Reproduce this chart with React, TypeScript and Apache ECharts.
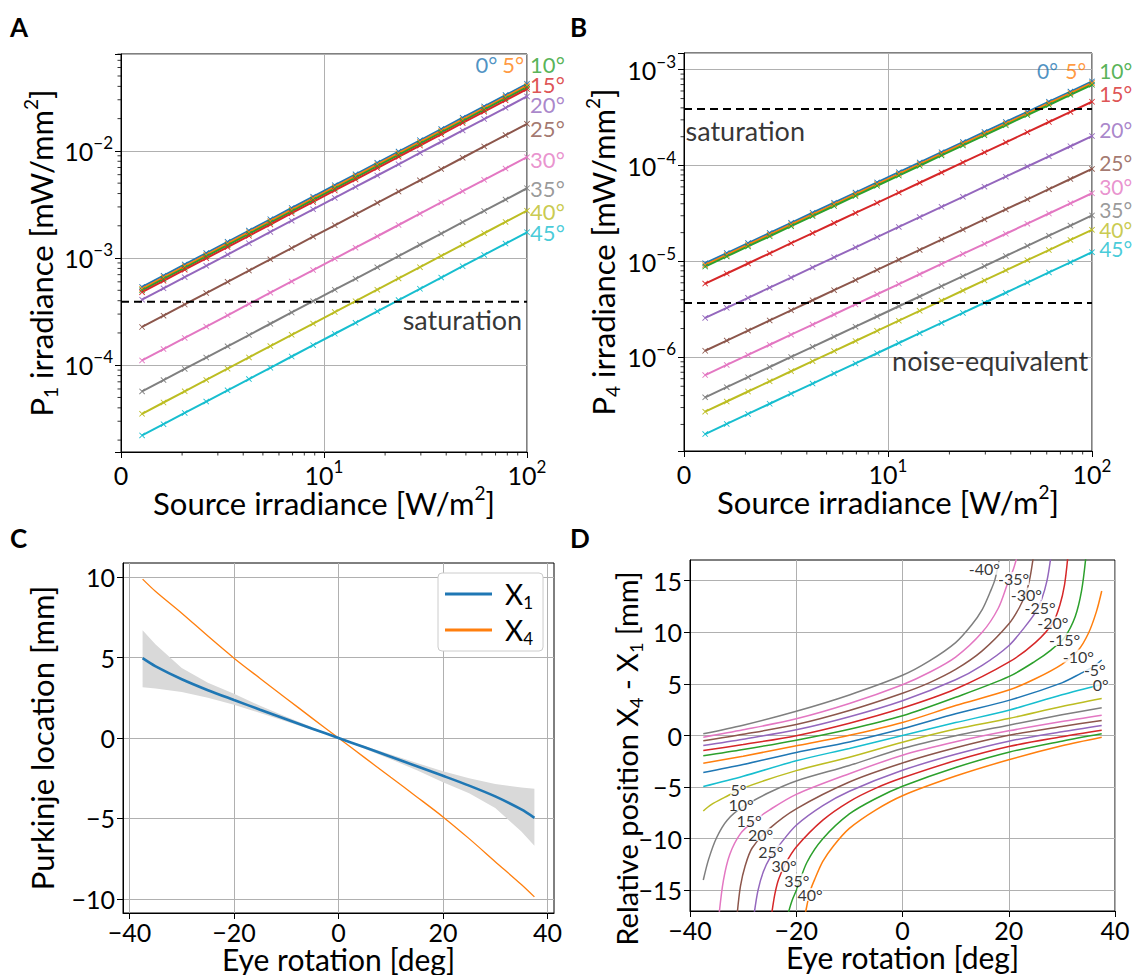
import React, { useEffect, useRef } from 'react';
import * as echarts from 'echarts';

const FONT = 'Lato';
const tab10 = ['#1f77b4', '#ff7f0e', '#2ca02c', '#d62728', '#9467bd', '#8c564b', '#e377c2', '#7f7f7f', '#bcbd22', '#17becf'];

// ---------- Panels A & B ----------
const sourceIrradiance = [1.27, 1.62, 2.06, 2.63, 3.35, 4.27, 5.44, 6.93, 8.84, 11.3, 14.3, 18.3, 23.3, 29.7, 37.8, 48.2, 61.5, 78.4, 100];
const angleNames = ['0°', '5°', '10°', '15°', '20°', '25°', '30°', '35°', '40°', '45°'];
// irradiance read at a source irradiance of 100 W/m² (both quantities are proportional)
const p1At100 = [0.0423, 0.0408, 0.0394, 0.0378, 0.0322, 0.0179, 0.00873, 0.00448, 0.00277, 0.00174];
const p4At100 = [7.55e-4, 7.26e-4, 6.97e-4, 4.63e-4, 2.03e-4, 9.24e-5, 5.15e-5, 3.02e-5, 2.14e-5, 1.25e-5];
const saturationLevel = 3.9e-4;
const noiseEquivalentLevel = 3.7e-6;
// label anchors (data coordinates)
const labelPosA = [[55.5, 0.0641], [75.0, 0.0641], [103, 0.0641], [103, 0.04165], [103, 0.02708], [103, 0.01616], [103, 0.008294], [103, 0.004446], [103, 0.002738], [103, 0.001742]];
const labelPosB = [[53.5, 9.76e-4], [73.5, 9.76e-4], [107.8, 9.76e-4], [107.8, 5.61e-4], [107.8, 2.363e-4], [107.8, 1.081e-4], [107.8, 6.074e-5], [107.8, 3.495e-5], [107.8, 2.171e-5], [107.8, 1.368e-5]];

// ---------- Panel C ----------
const eyeRotation = [-37.5, -35, -30, -25, -20, -15, -10, -5, 0, 5, 10, 15, 20, 25, 30, 35, 37.5];
const x1Location = [4.96, 4.45, 3.65, 2.97, 2.36, 1.76, 1.17, 0.58, 0, -0.58, -1.17, -1.76, -2.35, -2.96, -3.63, -4.44, -4.96];
const x1Upper = [6.7, 5.8, 4.35, 3.43, 2.75, 2.0, 1.32, 0.66, 0, -0.5, -1.03, -1.55, -2.07, -2.5, -2.85, -3.08, -3.15];
const x1Lower = [3.15, 3.08, 2.85, 2.5, 2.07, 1.55, 1.03, 0.5, 0, -0.66, -1.32, -2.0, -2.75, -3.43, -4.35, -5.8, -6.7];
const x4Location = [9.87, 9.1, 7.75, 6.33, 4.96, 3.7, 2.46, 1.22, 0, -1.22, -2.44, -3.66, -4.9, -6.25, -7.68, -9.1, -9.87];

// ---------- Panel D ----------
const curveM40 = [[-37.5, 0.17], [-30, 1.0], [-20, 2.35], [-10, 3.93], [0, 5.83], [5, 7.2], [10, 9.0], [13, 10.7], [15, 12.2], [16.5, 13.9], [17.4, 15.1], [18.2, 17.0], [18.5, 17.8]];
const curveM35 = [[-37.5, -0.16], [-30, 0.55], [-20, 1.62], [-10, 3.1], [0, 4.92], [5, 6.1], [10, 7.6], [15, 10.0], [18, 12.3], [19.9, 14.9], [20.8, 16.0], [21.5, 17.2]];
const curveM30 = [[-37.5, -0.51], [-30, 0.12], [-20, 1.07], [-10, 2.43], [0, 4.1], [5, 5.1], [10, 6.4], [15, 8.2], [20, 10.8], [22, 12.4], [23.3, 13.9], [24, 15.3], [24.6, 17.2]];
const curveM25 = [[-37.5, -0.97], [-30, -0.36], [-20, 0.55], [-10, 1.82], [0, 3.37], [10, 5.4], [15, 6.8], [20, 8.7], [23, 10.5], [25, 11.9], [26.2, 13.2], [27.2, 15.0], [27.9, 17.2]];
const curveM20 = [[-37.5, -1.46], [-30, -0.88], [-20, -0.02], [-10, 1.19], [0, 2.66], [10, 4.5], [20, 7.1], [25, 9.0], [28.3, 10.9], [29.6, 12.6], [30.5, 14.6], [31.1, 17.2]];
const curveM15 = [[-37.5, -1.97], [-30, -1.36], [-20, -0.45], [-10, 0.61], [0, 1.91], [10, 3.7], [20, 5.7], [25, 7.2], [28, 8.3], [30.5, 9.5], [32.5, 11.5], [33.7, 14.0], [34.5, 17.2]];
const curveM10 = [[-37.5, -2.68], [-30, -2.0], [-20, -1.0], [-10, 0.02], [0, 1.26], [10, 2.9], [20, 4.4], [25, 5.5], [30, 6.9], [33, 8.2], [35, 9.9], [36.5, 12.0], [37.5, 14.0]];
const curveM5 = [[-37.5, -3.59], [-30, -2.81], [-20, -1.65], [-10, -0.62], [0, 0.65], [10, 2.1], [20, 3.4], [30, 5.1], [33.5, 6.0], [36, 6.7], [37.5, 7.31]];
const curve0 = [[-37.5, -4.95], [-30, -3.95], [-20, -2.45], [-10, -1.25], [0, 0], [10, 1.25], [20, 2.45], [30, 3.95], [37.5, 4.95]];
const curveP5 = [[-37.5, -7.31], [-36, -6.7], [-33.5, -6.0], [-30, -5.1], [-20, -3.4], [-10, -2.1], [0, -0.65], [10, 0.62], [20, 1.65], [30, 2.81], [37.5, 3.59]];
const curveP10 = [[-37.5, -14.0], [-36.5, -12.0], [-35, -9.9], [-33, -8.2], [-30, -6.9], [-25, -5.5], [-20, -4.4], [-10, -2.9], [0, -1.26], [10, -0.02], [20, 1.0], [30, 2.0], [37.5, 2.68]];
const curveP15 = [[-34.5, -17.2], [-33.7, -14.0], [-32.5, -11.5], [-30.5, -9.5], [-28, -8.3], [-25, -7.2], [-20, -5.7], [-10, -3.7], [0, -1.91], [10, -0.61], [20, 0.45], [30, 1.36], [37.5, 1.97]];
const curveP20 = [[-31.1, -17.2], [-30.5, -14.6], [-29.6, -12.6], [-28.3, -10.9], [-25, -9.0], [-20, -7.1], [-10, -4.5], [0, -2.66], [10, -1.19], [20, 0.02], [30, 0.88], [37.5, 1.46]];
const curveP25 = [[-27.9, -17.2], [-27.2, -15.0], [-26.2, -13.2], [-25, -11.9], [-23, -10.5], [-20, -8.7], [-15, -6.8], [-10, -5.4], [0, -3.37], [10, -1.82], [20, -0.55], [30, 0.36], [37.5, 0.97]];
const curveP30 = [[-24.6, -17.2], [-24, -15.3], [-23.3, -13.9], [-22, -12.4], [-20, -10.8], [-15, -8.2], [-10, -6.4], [-5, -5.1], [0, -4.1], [10, -2.43], [20, -1.07], [30, -0.12], [37.5, 0.51]];
const curveP35 = [[-21.5, -17.2], [-20.8, -16.0], [-19.9, -14.9], [-18, -12.3], [-15, -10.0], [-10, -7.6], [-5, -6.1], [0, -4.92], [10, -3.1], [20, -1.62], [30, -0.55], [37.5, 0.16]];
const curveP40 = [[-18.5, -17.8], [-18.2, -17.0], [-17.4, -15.1], [-16.5, -13.9], [-15, -12.2], [-13, -10.7], [-10, -9.0], [-5, -7.2], [0, -5.83], [10, -3.93], [20, -2.35], [30, -1.0], [37.5, -0.17]];

const contourNames = ['-40°', '-35°', '-30°', '-25°', '-20°', '-15°', '-10°', '-5°', '0°', '5°', '10°', '15°', '20°', '25°', '30°', '35°', '40°'];
const contourCurves = [curveM40, curveM35, curveM30, curveM25, curveM20, curveM15, curveM10, curveM5, curve0, curveP5, curveP10, curveP15, curveP20, curveP25, curveP30, curveP35, curveP40];
const contourColorIdx = [7, 6, 5, 4, 3, 2, 1, 0, 9, 8, 7, 6, 5, 4, 3, 2, 1];
const contourLabelPos = [[15.4, 16.2], [20.9, 15.2], [23.3, 13.7], [25.9, 12.4], [28.3, 10.9], [30.5, 9.3], [33.1, 7.7], [36.2, 6.4], [37.3, 4.95], [-30.9, -5.2], [-30.4, -6.7], [-28.9, -8.2], [-26.7, -9.6], [-24.8, -11.2], [-22.3, -12.6], [-19.9, -14.0], [-17.4, -15.4]];

const MINUS = '\u2212';
const fmtNum = (v: number) => (v < 0 ? MINUS + Math.abs(v) : String(v));

const TICK = 25;
const tickRich = {
  b: { fontSize: TICK, lineHeight: 34, fontFamily: FONT, color: '#000' },
  s: { fontSize: 17, lineHeight: 17, verticalAlign: 'top', fontFamily: FONT, color: '#000' },
};
const logLabel = (v: number) => {
  const e = Math.log10(v);
  const r = Math.round(e);
  if (Math.abs(e - r) > 1e-6) return '';
  if (r === 0) return '{b|0}';
  return `{b|10}{s|${r < 0 ? MINUS + -r : r}}`;
};

const nameStyle = (size: number, extra: any = {}) => ({
  color: '#000',
  fontSize: size,
  lineHeight: size + 8,
  fontFamily: FONT,
  rich: {
    p: { fontSize: Math.round(size * 0.62), lineHeight: Math.round(size * 0.62), verticalAlign: 'top', fontFamily: FONT, color: '#000' },
    q: { fontSize: Math.round(size * 0.62), lineHeight: Math.round(size * 0.62), verticalAlign: 'bottom', fontFamily: FONT, color: '#000' },
  },
  ...extra,
});

function axis(o: any) {
  return {
    nameLocation: 'middle',
    nameMoveOverlap: false,
    axisLine: { show: true, onZero: false, lineStyle: { color: '#000', width: 1 } },
    splitLine: { show: true, lineStyle: { color: '#b0b0b0', width: 1 } },
    ...o,
    axisTick: { show: true, inside: false, length: 6, lineStyle: { color: '#000', width: 1 }, ...(o.axisTick || {}) },
    axisLabel: { color: '#000', fontSize: TICK, fontFamily: FONT, margin: 8, ...(o.axisLabel || {}) },
  };
}

const xMark = 'path://M1,0 L5,4 L9,0 L10,1 L6,5 L10,9 L9,10 L5,6 L1,10 L0,9 L4,5 L0,1 Z';

// minor tick positions (2..9 × 10^k) inside a log range
function minorLogValues(lo: number, hi: number) {
  const out: number[] = [];
  for (let e = Math.floor(Math.log10(lo)); e <= Math.ceil(Math.log10(hi)); e++) {
    for (let m = 2; m <= 9; m++) {
      const v = m * Math.pow(10, e);
      if (v > lo && v < hi) out.push(v);
    }
  }
  return out;
}

function minorTickSeries(ai: number, xr: [number, number], yr: [number, number]) {
  const xs = minorLogValues(xr[0], xr[1]);
  const ys = minorLogValues(yr[0], yr[1]);
  return {
    type: 'custom',
    xAxisIndex: ai,
    yAxisIndex: ai,
    silent: true,
    clip: false,
    data: [[xr[0], yr[0]]],
    renderItem: (_p: any, api: any) => {
      const children: any[] = [];
      xs.forEach((v) => {
        const p = api.coord([v, yr[0]]);
        children.push({ type: 'line', shape: { x1: p[0], y1: p[1], x2: p[0], y2: p[1] + 3.5 }, style: { stroke: '#000', lineWidth: 0.8 } });
      });
      ys.forEach((v) => {
        const p = api.coord([xr[0], v]);
        children.push({ type: 'line', shape: { x1: p[0] - 3.5, y1: p[1], x2: p[0], y2: p[1] }, style: { stroke: '#000', lineWidth: 0.8 } });
      });
      return { type: 'group', children };
    },
    z: 5,
  };
}

const yRangeA: [number, number] = [1.549e-5, 0.0802];
const yRangeB: [number, number] = [1.057e-7, 1.493e-3];

function buildOption() {
  const series: any[] = [];

  // Panel A & B lines
  const gains = [p1At100, p4At100];
  gains.forEach((g, gi) => {
    g.forEach((k, i) => {
      series.push({
        type: 'line',
        xAxisIndex: gi,
        yAxisIndex: gi,
        data: sourceIrradiance.map((s) => [s, (k * s) / 100]),
        symbol: xMark,
        symbolSize: 6,
        showSymbol: true,
        itemStyle: { color: tab10[i] },
        lineStyle: { color: tab10[i], width: 2 },
        z: 3,
      });
    });
    series.push({
      type: 'line',
      xAxisIndex: gi,
      yAxisIndex: gi,
      data: [[1, saturationLevel], [100, saturationLevel]],
      symbol: 'none',
      lineStyle: { color: '#000', width: 2, type: [8, 5] },
      z: 4,
    });
    const pos = gi === 0 ? labelPosA : labelPosB;
    series.push({
      type: 'scatter',
      xAxisIndex: gi,
      yAxisIndex: gi,
      clip: false,
      silent: true,
      symbolSize: 1,
      itemStyle: { color: 'transparent' },
      data: pos.map((p, i) => ({ value: p, name: angleNames[i], label: { color: tab10[i] } })),
      label: { show: true, position: 'right', distance: 0, formatter: '{b}', fontSize: gi === 0 ? 22 : 21, lineHeight: 18, fontFamily: FONT },
      z: 6,
    });
    series.push(minorTickSeries(gi, [1, 100], gi === 0 ? yRangeA : yRangeB));
  });
  series.push({
    type: 'line',
    xAxisIndex: 1,
    yAxisIndex: 1,
    data: [[1, noiseEquivalentLevel], [100, noiseEquivalentLevel]],
    symbol: 'none',
    lineStyle: { color: '#000', width: 2, type: [8, 5] },
    z: 4,
  });
  const textSeries = (ai: number, items: any[]) => ({
    type: 'scatter',
    xAxisIndex: ai,
    yAxisIndex: ai,
    clip: false,
    silent: true,
    symbolSize: 1,
    itemStyle: { color: 'transparent' },
    data: items,
    label: { show: true, distance: 0, formatter: '{b}', fontSize: 27, fontFamily: FONT, color: '#000' },
    z: 6,
  });
  series.push(textSeries(0, [{ value: [95.2, 2.65e-4], name: 'saturation', label: { position: 'left' } }]));
  series.push(textSeries(1, [
    { value: [1.011, 2.307e-4], name: 'saturation', label: { position: 'right' } },
    { value: [96.2, 9.37e-7], name: 'noise-equivalent', label: { position: 'left' } },
  ]));

  // Panel C
  series.push({
    type: 'custom',
    xAxisIndex: 2,
    yAxisIndex: 2,
    silent: true,
    data: [[0, 0]],
    renderItem: (_p: any, api: any) => {
      const up = eyeRotation.map((x, i) => api.coord([x, x1Upper[i]]));
      const lo = eyeRotation.map((x, i) => api.coord([x, x1Lower[i]])).reverse();
      return { type: 'polygon', shape: { points: up.concat(lo) }, style: { fill: '#d9d9d9' } };
    },
    z: 2,
  });
  series.push({
    type: 'line', name: 'X1', xAxisIndex: 2, yAxisIndex: 2,
    data: eyeRotation.map((x, i) => [x, x1Location[i]]),
    showSymbol: false, smooth: 0.3,
    itemStyle: { color: tab10[0] }, lineStyle: { color: tab10[0], width: 2.6 }, z: 4,
  });
  series.push({
    type: 'line', name: 'X4', xAxisIndex: 2, yAxisIndex: 2,
    data: eyeRotation.map((x, i) => [x, x4Location[i]]),
    showSymbol: false, smooth: 0.3,
    itemStyle: { color: tab10[1] }, lineStyle: { color: tab10[1], width: 1.3 }, z: 3,
  });

  // Panel D
  contourCurves.forEach((c, i) => {
    series.push({
      type: 'line', xAxisIndex: 3, yAxisIndex: 3,
      data: c, showSymbol: false, smooth: 0.3, clip: true,
      lineStyle: { color: tab10[contourColorIdx[i]], width: 1.5 },
      itemStyle: { color: tab10[contourColorIdx[i]] }, z: 3,
    });
  });
  series.push({
    type: 'scatter', xAxisIndex: 3, yAxisIndex: 3, silent: true, clip: false,
    symbolSize: 1, itemStyle: { color: 'transparent' },
    data: contourLabelPos.map((p, i) => ({ value: p, name: contourNames[i] })),
    label: { show: true, position: 'inside', formatter: '{b}', fontSize: 16, lineHeight: 13, fontFamily: FONT, color: '#000', backgroundColor: '#fff', padding: [0, 0] },
    z: 6,
  });

  const gridCommon = { show: true, borderColor: '#000', borderWidth: 1, backgroundColor: 'transparent', containLabel: false, outerBoundsMode: 'none' };
  const letter = (t: string, left: number, top: number) => ({ type: 'text', left, top, style: { text: t, fontSize: 26, fontWeight: 'bold', fontFamily: FONT, fill: '#000' } });
  const linTickLabel = { formatter: fmtNum, lineHeight: 26, margin: 6 };

  return {
    animation: false,
    backgroundColor: '#fff',
    textStyle: { fontFamily: FONT },
    grid: [
      { ...gridCommon, left: 121, top: 54, width: 406, height: 398 },
      { ...gridCommon, left: 684, top: 53, width: 408, height: 398 },
      { ...gridCommon, left: 123, top: 563, width: 431, height: 350 },
      { ...gridCommon, left: 690, top: 560, width: 425, height: 351 },
    ],
    legend: {
      show: true,
      orient: 'vertical',
      left: 438,
      top: 573,
      data: ['X1', 'X4'],
      icon: 'rect',
      itemWidth: 47,
      itemHeight: 3,
      itemGap: 2,
      padding: [4, 10, 4, 7],
      borderColor: '#cccccc',
      borderWidth: 1,
      borderRadius: 4,
      backgroundColor: '#fff',
      formatter: (n: string) => `X{q|${n.slice(1)}}`,
      textStyle: {
        fontSize: 28, lineHeight: 34, fontFamily: FONT, color: '#000', padding: [0, 0, 0, 8],
        rich: { q: { fontSize: 17, lineHeight: 17, verticalAlign: 'bottom', fontFamily: FONT, color: '#000' } },
      },
    },
    xAxis: [
      axis({ gridIndex: 0, type: 'log', logBase: 10, min: 1, max: 100, name: 'Source irradiance [W/m{p|2}]', nameGap: 31, nameTextStyle: nameStyle(31), axisLabel: { formatter: logLabel, rich: tickRich, margin: 6 } }),
      axis({ gridIndex: 1, type: 'log', logBase: 10, min: 1, max: 100, name: 'Source irradiance [W/m{p|2}]', nameGap: 31, nameTextStyle: nameStyle(31), axisLabel: { formatter: logLabel, rich: tickRich, margin: 6 } }),
      axis({ gridIndex: 2, type: 'value', min: -41.25, max: 41.25, name: 'Eye rotation [deg]', nameGap: 31, nameTextStyle: nameStyle(30, { lineHeight: 30 }), axisTick: { customValues: [-40, -20, 0, 20, 40] }, axisLabel: { customValues: [-40, -20, 0, 20, 40], ...linTickLabel } }),
      axis({ gridIndex: 3, type: 'value', min: -40, max: 40, interval: 20, name: 'Eye rotation [deg]', nameGap: 31, nameTextStyle: nameStyle(30, { lineHeight: 30 }), axisLabel: { ...linTickLabel } }),
    ],
    yAxis: [
      axis({ gridIndex: 0, type: 'log', logBase: 10, min: yRangeA[0], max: yRangeA[1], name: 'P{q|1} irradiance [mW/mm{p|2}]', nameGap: 61, nameTextStyle: nameStyle(31), axisLabel: { formatter: logLabel, rich: tickRich, margin: 8 } }),
      axis({ gridIndex: 1, type: 'log', logBase: 10, min: yRangeB[0], max: yRangeB[1], name: 'P{q|4} irradiance [mW/mm{p|2}]', nameGap: 62, nameTextStyle: nameStyle(31), axisLabel: { formatter: logLabel, rich: tickRich, margin: 8 } }),
      axis({ gridIndex: 2, type: 'value', min: -10.87, max: 10.87, name: 'Purkinje location [mm]', nameGap: 62, nameTextStyle: nameStyle(31), axisTick: { customValues: [-10, -5, 0, 5, 10] }, axisLabel: { customValues: [-10, -5, 0, 5, 10], formatter: fmtNum } }),
      axis({ gridIndex: 3, type: 'value', min: -17, max: 17, name: 'Relative position X{q|4} - X{q|1} [mm]', nameGap: 45, nameTextStyle: nameStyle(29, { padding: [0, 46, 0, 0] }), axisTick: { customValues: [-15, -10, -5, 0, 5, 10, 15] }, axisLabel: { customValues: [-15, -10, -5, 0, 5, 10, 15], formatter: fmtNum } }),
    ],
    graphic: [letter('A', 10, 14), letter('B', 570, 14), letter('C', 10, 525), letter('D', 570, 525)],
    series,
  };
}

export default function App() {
  const ref = useRef<HTMLDivElement>(null);
  useEffect(() => {
    const chart = echarts.init(ref.current as HTMLDivElement, null, { renderer: 'svg' });
    chart.setOption(buildOption() as any);
    return () => chart.dispose();
  }, []);
  return <div ref={ref} style={{ position: 'fixed', left: 0, top: 0, width: 1133, height: 975, background: '#fff' }} />;
}
